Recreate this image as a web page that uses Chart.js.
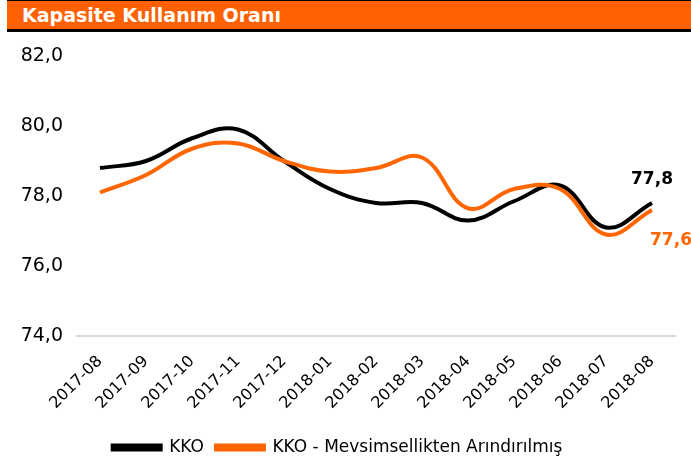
<!DOCTYPE html>
<html>
<head>
<meta charset="utf-8">
<script src="https://cdn.jsdelivr.net/npm/chart.js@4"></script>
<style>
  body { margin: 0; background: #fff; }
  #wrap { position: relative; width: 691px; height: 468px; overflow: hidden; }
  #title {
    position: absolute; left: 7px; top: 0; right: 0; height: 28px;
    background: #ff6000; border-top: 1px solid #000; border-bottom: 3px solid #000;
    color: #fff; font: bold 19px "DejaVu Sans", sans-serif;
    line-height: 28px; padding-left: 15px;
  }
  canvas { position: absolute; left: 0; top: 0; }
</style>
</head>
<body>
<div id="wrap">
  <canvas id="myChart" width="691" height="468"></canvas>
  <div id="title">Kapasite Kullanım Oranı</div>
</div>
<script>
var months = ['2017-08', '2017-09', '2017-10', '2017-11', '2017-12', '2018-01', '2018-02',
              '2018-03', '2018-04', '2018-05', '2018-06', '2018-07', '2018-08'];
var kko = [78.8, 79.0, 79.65, 79.9, 79.0, 78.2, 77.8, 77.8, 77.3, 77.85, 78.3, 77.1, 77.8];
var kkoSa = [78.1, 78.6, 79.35, 79.5, 79.0, 78.7, 78.8, 79.1, 77.65, 78.2, 78.2, 76.9, 77.6];
var yTicks = [74, 76, 78, 80, 82];

function fmt(v) {
    return v.toFixed(1).replace('.', ',');
}

// last value labels at the end of each line
var endLabels = {
    id: 'endLabels',
    afterDatasetsDraw: function (chart) {
        var ctx = chart.ctx;
        var offsets = [-23, 31];
        var dx = [0, 19];
        ctx.save();
        ctx.font = 'bold 17px "DejaVu Sans", sans-serif';
        ctx.textAlign = 'center';
        ctx.textBaseline = 'middle';
        chart.data.datasets.forEach(function (ds, i) {
            var meta = chart.getDatasetMeta(i);
            var pt = meta.data[meta.data.length - 1];
            ctx.fillStyle = ds.borderColor;
            ctx.fillText(fmt(ds.data[ds.data.length - 1]), pt.x + dx[i], pt.y + offsets[i]);
        });
        ctx.restore();
    }
};

var ctx = document.getElementById('myChart').getContext('2d');
var myChart = new Chart(ctx, {
    type: 'line',
    data: {
        labels: months,
        datasets: [{
            label: 'KKO',
            data: kko,
            borderColor: '#000000',
            backgroundColor: '#000000',
            borderWidth: 4,
            pointRadius: 0,
            tension: 0.4,
            order: 1
        }, {
            label: 'KKO - Mevsimsellikten Arındırılmış',
            data: kkoSa,
            borderColor: '#ff6600',
            backgroundColor: '#ff6600',
            borderWidth: 4,
            pointRadius: 0,
            tension: 0.4,
            order: 0
        }]
    },
    options: {
        responsive: false,
        animation: false,
        layout: { padding: { top: 56, right: 16, left: 0, bottom: 2 } },
        scales: {
            y: {
                min: 74,
                max: 82,
                afterBuildTicks: function (scale) {
                    scale.ticks = yTicks.map(function (v) { return { value: v }; });
                },
                afterFit: function (scale) { scale.width = 77; },
                grid: { display: false },
                border: { display: false },
                ticks: {
                    color: '#000',
                    padding: 6,
                    font: { family: 'DejaVu Sans', size: 19 },
                    callback: function (v) { return fmt(v); }
                }
            },
            x: {
                offset: true,
                afterFit: function (scale) { scale.height = 91; },
                grid: { display: false },
                border: { display: true, color: '#d9d9d9', width: 2 },
                ticks: {
                    color: '#000',
                    minRotation: 45,
                    maxRotation: 45,
                    padding: 8,
                    font: { family: 'DejaVu Sans', size: 16 }
                }
            }
        },
        plugins: {
            tooltip: { enabled: false },
            legend: {
                position: 'bottom',
                labels: {
                    color: '#000',
                    boxWidth: 48,
                    boxHeight: 4,
                    padding: 12,
                    font: { family: 'DejaVu Sans', size: 17 },
                    sort: function (a, b) { return a.datasetIndex - b.datasetIndex; }
                }
            }
        }
    },
    plugins: [endLabels]
});
</script>
</body>
</html>
